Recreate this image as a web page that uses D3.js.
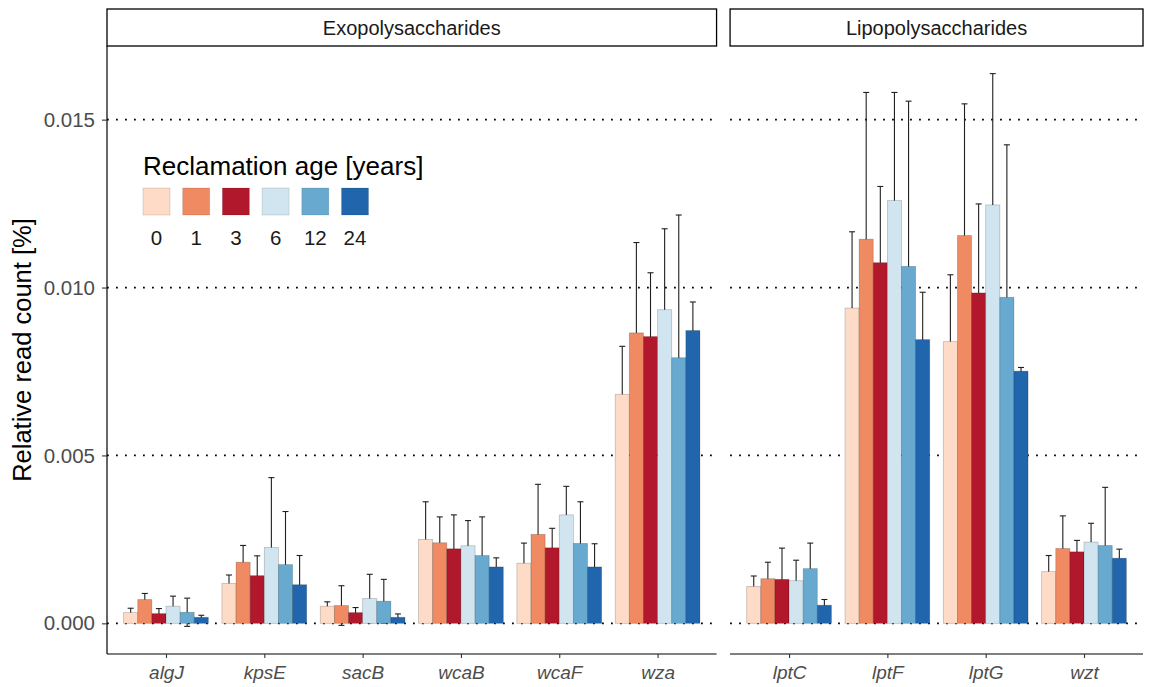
<!DOCTYPE html>
<html>
<head>
<meta charset="utf-8">
<script src="https://cdn.jsdelivr.net/npm/d3@7"></script>
<style>
  html, body { margin: 0; padding: 0; background: #fff; }
  svg { display: block; font-family: "Liberation Sans", Arial, sans-serif; }
</style>
</head>
<body>
<svg id="chart" width="1149" height="687"></svg>
<script>
// Gene groups (facets) and the genes in each
const panelNames = ["Exopolysaccharides", "Lipopolysaccharides"];
const exoGenes = ["algJ", "kpsE", "sacB", "wcaB", "wcaF", "wza"];
const lpsGenes = ["lptC", "lptF", "lptG", "wzt"];
const allGenes = exoGenes.concat(lpsGenes);

// Reclamation age classes and their fills
const ages = ["0", "1", "3", "6", "12", "24"];
const ageColors = ["#FDDBC7", "#EF8A62", "#B2182B", "#D1E5F0", "#67A9CF", "#2166AC"];

// Mean relative read count [%], one array per age, genes in allGenes order
const meanAge0  = [0.00032, 0.00119, 0.00051, 0.00250, 0.00179, 0.00682, 0.00110, 0.00939, 0.00839, 0.00154];
const meanAge1  = [0.00071, 0.00182, 0.00053, 0.00240, 0.00265, 0.00865, 0.00133, 0.01144, 0.01155, 0.00223];
const meanAge3  = [0.00029, 0.00142, 0.00032, 0.00222, 0.00225, 0.00854, 0.00131, 0.01074, 0.00984, 0.00213];
const meanAge6  = [0.00051, 0.00226, 0.00074, 0.00231, 0.00323, 0.00934, 0.00127, 0.01259, 0.01246, 0.00242];
const meanAge12 = [0.00033, 0.00175, 0.00066, 0.00202, 0.00238, 0.00791, 0.00163, 0.01063, 0.00971, 0.00232];
const meanAge24 = [0.00018, 0.00115, 0.00018, 0.00168, 0.00168, 0.00872, 0.00054, 0.00845, 0.00751, 0.00194];

// Standard deviations, same layout
const sdAge0  = [0.00013, 0.00025, 0.00013, 0.00112, 0.00060, 0.00143, 0.00031, 0.00227, 0.00199, 0.00048];
const sdAge1  = [0.00018, 0.00050, 0.00059, 0.00077, 0.00149, 0.00269, 0.00049, 0.00437, 0.00392, 0.00097];
const sdAge3  = [0.00015, 0.00059, 0.00015, 0.00101, 0.00058, 0.00190, 0.00093, 0.00227, 0.00265, 0.00034];
const sdAge6  = [0.00030, 0.00208, 0.00072, 0.00075, 0.00085, 0.00241, 0.00061, 0.00322, 0.00391, 0.00056];
const sdAge12 = [0.00042, 0.00158, 0.00065, 0.00115, 0.00124, 0.00425, 0.00076, 0.00492, 0.00454, 0.00173];
const sdAge24 = [0.00006, 0.00087, 0.00010, 0.00027, 0.00069, 0.00085, 0.00017, 0.00141, 0.00011, 0.00027];

const yTicks = [0, 0.005, 0.010, 0.015];

const meansByAge = [meanAge0, meanAge1, meanAge3, meanAge6, meanAge12, meanAge24];
const sdsByAge = [sdAge0, sdAge1, sdAge3, sdAge6, sdAge12, sdAge24];

// Long-format rows
const rows = [];
allGenes.forEach((g, gi) => {
  ages.forEach((a, ai) => {
    rows.push({
      gene: g,
      panel: exoGenes.includes(g) ? panelNames[0] : panelNames[1],
      age: a,
      mean: meansByAge[ai][gi],
      sd: sdsByAge[ai][gi]
    });
  });
});

const FONT = "'Liberation Sans', Arial, sans-serif";
const svg = d3.select("#chart");
svg.append("rect").attr("width", 1149).attr("height", 687).attr("fill", "#fff");

// Plot geometry
const plotLeft = 107, plotRight = 1143, panelGap = 13.5;
const plotTop = 46, plotBottom = 654;
const stripTop = 9;
const expandUnits = 0.6; // discrete axis expansion on each side
const panelGeneLists = [exoGenes, lpsGenes];
const totalSteps = d3.sum(panelGeneLists, l => l.length - 1 + 2 * expandUnits);
const step = (plotRight - plotLeft - panelGap) / totalSteps;

const panels = [];
let cursor = plotLeft;
panelGeneLists.forEach((genes, i) => {
  const w = (genes.length - 1 + 2 * expandUnits) * step;
  panels.push({
    name: panelNames[i],
    genes: genes,
    x0: cursor,
    x1: cursor + w,
    x: d3.scalePoint().domain(genes).range([cursor, cursor + w]).padding(expandUnits)
  });
  cursor += w + panelGap;
});

// Y scale with 5% expansion around the error-bar range
const lo = d3.min(rows, d => d.mean - d.sd);
const hi = d3.max(rows, d => d.mean + d.sd);
const pad = 0.05 * (hi - lo);
const y = d3.scaleLinear().domain([lo - pad, hi + pad]).range([plotBottom, plotTop]);

// Dodge within each gene
const groupWidth = 0.862 * step;
const dodge = d3.scaleBand().domain(ages).range([-groupWidth / 2, groupWidth / 2]).paddingInner(0);
const color = d3.scaleOrdinal().domain(ages).range(ageColors);
const capHalf = 3;

panels.forEach((p, pi) => {
  const g = svg.append("g");

  // Dotted reference lines at the major ticks
  g.selectAll("line.grid").data(yTicks).enter().append("line")
    .attr("x1", p.x0).attr("x2", p.x1)
    .attr("y1", d => y(d)).attr("y2", d => y(d))
    .attr("stroke", "#000").attr("stroke-width", 1.8)
    .attr("stroke-dasharray", "1.8 7.2");

  const data = rows.filter(r => r.panel === p.name);
  const cx = d => p.x(d.gene) + dodge(d.age) + dodge.bandwidth() / 2;

  // Error bars (drawn first so the bars cover their lower halves)
  const eb = g.selectAll("g.err").data(data).enter().append("g")
    .attr("stroke", "#1f1f1f").attr("stroke-width", 1.1);
  eb.append("line")
    .attr("x1", cx).attr("x2", cx)
    .attr("y1", d => y(d.mean - d.sd)).attr("y2", d => y(d.mean + d.sd));
  eb.append("line")
    .attr("x1", d => cx(d) - capHalf).attr("x2", d => cx(d) + capHalf)
    .attr("y1", d => y(d.mean + d.sd)).attr("y2", d => y(d.mean + d.sd));
  eb.append("line")
    .attr("x1", d => cx(d) - capHalf).attr("x2", d => cx(d) + capHalf)
    .attr("y1", d => y(d.mean - d.sd)).attr("y2", d => y(d.mean - d.sd));

  // Bars
  g.selectAll("rect.bar").data(data).enter().append("rect")
    .attr("x", d => p.x(d.gene) + dodge(d.age))
    .attr("width", dodge.bandwidth())
    .attr("y", d => y(d.mean))
    .attr("height", d => y(0) - y(d.mean))
    .attr("fill", d => color(d.age))
    .attr("stroke", "rgba(0,0,0,0.22)")
    .attr("stroke-width", 0.8);

  // Bottom axis
  const xAxis = d3.axisBottom(p.x).tickSize(4).tickPadding(8);
  const ax = g.append("g").attr("transform", `translate(0,${plotBottom})`).call(xAxis);
  ax.select(".domain").attr("d", `M${p.x0},0H${p.x1}`).attr("stroke", "#000").attr("stroke-width", 1.2);
  ax.selectAll(".tick line").attr("stroke", "#333").attr("stroke-width", 1.1);
  ax.selectAll(".tick text")
    .attr("fill", "#4d4d4d").attr("font-size", 19).attr("font-style", "italic")
    .attr("font-family", FONT);

  // Facet strip
  g.append("rect")
    .attr("x", p.x0).attr("y", stripTop)
    .attr("width", p.x1 - p.x0).attr("height", plotTop - stripTop)
    .attr("fill", "#fff").attr("stroke", "#000").attr("stroke-width", 1.3);
  g.append("text")
    .attr("x", (p.x0 + p.x1) / 2).attr("y", (stripTop + plotTop) / 2)
    .attr("dy", "0.36em").attr("text-anchor", "middle")
    .attr("font-size", 20).attr("fill", "#1a1a1a")
    .text(p.name);

  // Left axis only on the first panel
  if (pi === 0) {
    const yAxis = d3.axisLeft(y).tickValues(yTicks).tickFormat(d3.format(".3f")).tickSize(5).tickPadding(7);
    const ay = g.append("g").attr("transform", `translate(${p.x0},0)`).call(yAxis);
    ay.select(".domain").attr("d", `M0,${plotTop}V${plotBottom}`).attr("stroke", "#000").attr("stroke-width", 1.2);
    ay.selectAll(".tick line").attr("stroke", "#333").attr("stroke-width", 1.1);
    ay.selectAll(".tick text").attr("fill", "#4d4d4d").attr("font-size", 20.5)
      .attr("font-family", FONT);
  }
});

// Y axis title
svg.append("text")
  .attr("transform", `translate(31,${(plotTop + plotBottom) / 2}) rotate(-90)`)
  .attr("text-anchor", "middle").attr("font-size", 25.5).attr("fill", "#000")
  .text("Relative read count [%]");

// Legend inside the left panel
const legX = 143, legKeyY = 188, keySize = 27, keyStep = 39.7;
const leg = svg.append("g");
leg.append("text")
  .attr("x", legX).attr("y", 175)
  .attr("font-size", 26).attr("fill", "#000")
  .text("Reclamation age [years]");
leg.selectAll("rect").data(ages).enter().append("rect")
  .attr("x", (d, i) => legX + i * keyStep).attr("y", legKeyY)
  .attr("width", keySize).attr("height", keySize)
  .attr("fill", d => color(d))
  .attr("stroke", "rgba(0,0,0,0.15)").attr("stroke-width", 0.8);
leg.selectAll("text.lab").data(ages).enter().append("text")
  .attr("class", "lab")
  .attr("x", (d, i) => legX + i * keyStep + keySize / 2).attr("y", 245)
  .attr("text-anchor", "middle").attr("font-size", 20.5).attr("fill", "#1a1a1a")
  .text(d => d);
</script>
</body>
</html>
